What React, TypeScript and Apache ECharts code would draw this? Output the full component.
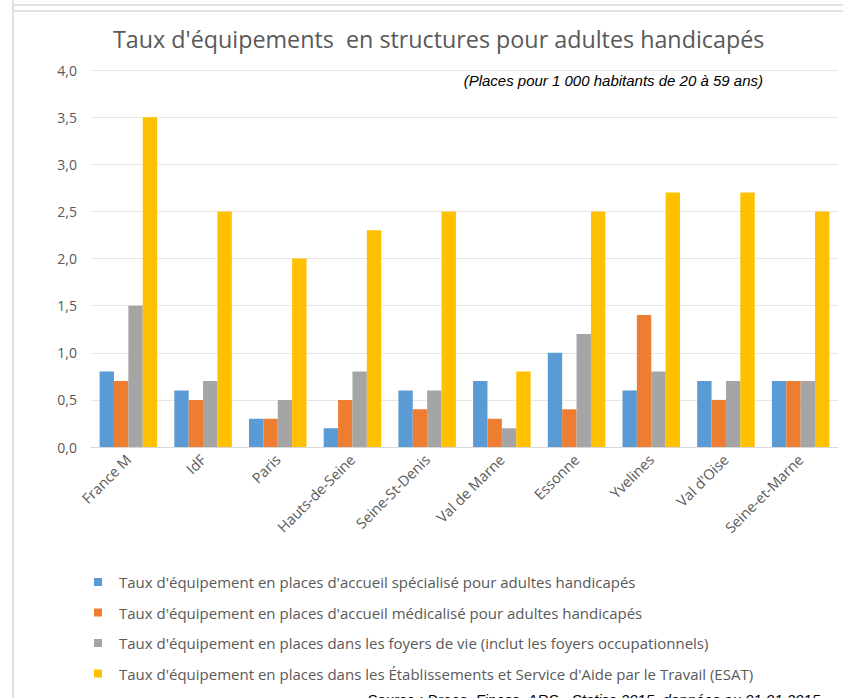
import React, { useEffect, useRef } from "react";
import * as echarts from "echarts";

const categories = [
  "France M",
  "IdF",
  "Paris",
  "Hauts-de-Seine",
  "Seine-St-Denis",
  "Val de Marne",
  "Essonne",
  "Yvelines",
  "Val d'Oise",
  "Seine-et-Marne",
];

const seriesNames = [
  "Taux d'équipement en places d'accueil spécialisé pour adultes handicapés",
  "Taux d'équipement en places d'accueil médicalisé pour adultes handicapés",
  "Taux d'équipement en places dans les foyers de vie (inclut les foyers occupationnels)",
  "Taux d'équipement en places dans les Établissements et Service d'Aide par le Travail (ESAT)",
];

const masValues = [0.8, 0.6, 0.3, 0.2, 0.6, 0.7, 1.0, 0.6, 0.7, 0.7];
const famValues = [0.7, 0.5, 0.3, 0.5, 0.4, 0.3, 0.4, 1.4, 0.5, 0.7];
const foyerValues = [1.5, 0.7, 0.5, 0.8, 0.6, 0.2, 1.2, 0.8, 0.7, 0.7];
const esatValues = [3.5, 2.5, 2.0, 2.3, 2.5, 0.8, 2.5, 2.7, 2.7, 2.5];

const colors = ["#5B9BD5", "#ED7D31", "#A5A5A5", "#FFC000"];

const titleText = "Taux d'équipements  en structures pour adultes handicapés";
const subtitleText = "(Places pour 1 000 habitants de 20 à 59 ans)";
const sourceText = "Source : Drees, Finess, ARS - Statiss 2015, données au 01.01.2015";

export default function App() {
  const ref = useRef<HTMLDivElement>(null);

  useEffect(() => {
    if (!ref.current) return;
    const chart = echarts.init(ref.current, undefined, { renderer: "svg" });
    const allValues = [masValues, famValues, foyerValues, esatValues];
    const gray = "#595959";
    const font = "'Open Sans', sans-serif";
    chart.setOption({
      animation: false,
      backgroundColor: "#ffffff",
      color: colors,
      title: [
        {
          text: titleText,
          left: 108,
          top: 22,
          textStyle: { fontFamily: font, fontSize: 23.3, fontWeight: "normal", color: gray },
        },
        {
          text: subtitleText,
          right: 75,
          top: 68,
          textStyle: {
            fontFamily: "'Liberation Sans', Arial, sans-serif",
            fontStyle: "italic",
            fontSize: 15,
            fontWeight: "normal",
            color: "#000000",
          },
        },
        {
          text: sourceText,
          left: 367,
          top: 692,
          padding: 0,
          textStyle: {
            fontFamily: "'Liberation Sans', Arial, sans-serif",
            fontStyle: "italic",
            fontSize: 15,
            fontWeight: "normal",
            color: "#000000",
          },
        },
      ],
      graphic: [
        { type: "line", shape: { x1: 13, y1: 0, x2: 13, y2: 698 }, style: { stroke: "#d9d9d9", lineWidth: 1.5 } },
        { type: "line", shape: { x1: 13, y1: 5, x2: 843, y2: 5 }, style: { stroke: "#d9d9d9", lineWidth: 1.5 } },
        { type: "line", shape: { x1: 13, y1: 11, x2: 843, y2: 11 }, style: { stroke: "#d9d9d9", lineWidth: 1.5 } },
      ],
      legend: {
        orient: "vertical",
        left: 89,
        top: 568,
        padding: 5,
        itemWidth: 8,
        itemHeight: 8,
        itemGap: 12.5,
        icon: "rect",
        textStyle: {
          fontFamily: font,
          fontSize: 15,
          color: gray,
          lineHeight: 18,
          padding: [0, 0, 0, 12],
        },
        data: seriesNames,
      },
      grid: { left: 91, right: 5, top: 70, bottom: 251, containLabel: false },
      xAxis: {
        type: "category",
        data: categories,
        axisLine: { show: true, lineStyle: { color: "#d9d9d9", width: 1 } },
        axisTick: { show: false },
        axisLabel: {
          rotate: 45,
          interval: 0,
          margin: 10,
          fontFamily: font,
          fontSize: 14.5,
          color: gray,
        },
      },
      yAxis: {
        type: "value",
        min: 0,
        max: 4,
        interval: 0.5,
        axisLine: { show: false },
        axisTick: { show: false },
        splitLine: { lineStyle: { color: "#e6e6e6", width: 1 } },
        axisLabel: {
          margin: 14,
          fontFamily: font,
          fontSize: 14,
          color: gray,
          formatter: (v: number) => v.toFixed(1).replace(".", ","),
        },
      },
      series: seriesNames.map((name, i) => ({
        name,
        type: "bar",
        data: allValues[i],
        barGap: "0%",
        barCategoryGap: "23%",
        itemStyle: { color: colors[i] },
      })),
    });
    return () => chart.dispose();
  }, []);

  return (
    <div
      ref={ref}
      style={{ position: "absolute", left: 0, top: 0, width: 843, height: 698 }}
    />
  );
}
